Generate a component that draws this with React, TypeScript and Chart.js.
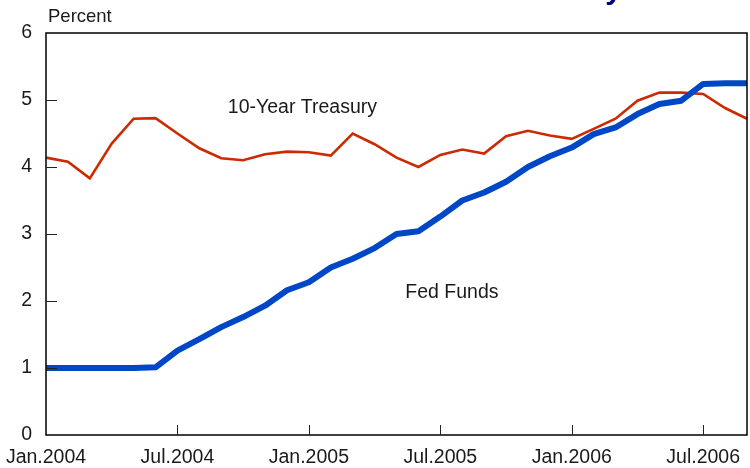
import React, { useEffect, useRef } from "react";
import { Chart, registerables } from "chart.js";

Chart.register(...registerables);

const months = [
  "Jan.2004","Feb.2004","Mar.2004","Apr.2004","May.2004","Jun.2004",
  "Jul.2004","Aug.2004","Sep.2004","Oct.2004","Nov.2004","Dec.2004",
  "Jan.2005","Feb.2005","Mar.2005","Apr.2005","May.2005","Jun.2005",
  "Jul.2005","Aug.2005","Sep.2005","Oct.2005","Nov.2005","Dec.2005",
  "Jan.2006","Feb.2006","Mar.2006","Apr.2006","May.2006","Jun.2006",
  "Jul.2006","Aug.2006","Sep.2006",
];

const tickLabels = ["Jan.2004", "Jul.2004", "Jan.2005", "Jul.2005", "Jan.2006", "Jul.2006"];

const treasury10y = [
  4.14, 4.08, 3.83, 4.35, 4.72, 4.73, 4.50, 4.28, 4.13, 4.10, 4.19, 4.23,
  4.22, 4.17, 4.50, 4.34, 4.14, 4.00, 4.18, 4.26, 4.20, 4.46, 4.54, 4.47,
  4.42, 4.57, 4.72, 4.99, 5.11, 5.11, 5.09, 4.88, 4.72,
];

const fedFunds = [
  1.00, 1.00, 1.00, 1.00, 1.00, 1.01, 1.26, 1.43, 1.61, 1.76, 1.93, 2.16,
  2.28, 2.50, 2.63, 2.79, 3.00, 3.04, 3.26, 3.50, 3.62, 3.78, 4.00, 4.16,
  4.29, 4.49, 4.59, 4.79, 4.94, 4.99, 5.24, 5.25, 5.25,
];

const yAxisTitle = "Percent";
const treasuryLabel = "10-Year Treasury";
const fedLabel = "Fed Funds";
const titleFragment = "Policy";

const FONT = "'Liberation Sans', Arial, Helvetica, sans-serif";
const TEXT = "#1a1a1a";
const RED = "#cc2a00";
const BLUE = "#0047c8";

const decorPlugin = {
  id: "decor",
  afterDraw(chart: any) {
    const { ctx, chartArea } = chart;
    const x = chart.scales.x;
    const y = chart.scales.y;
    ctx.save();
    ctx.strokeStyle = "#000";
    ctx.lineWidth = 1.5;
    ctx.strokeRect(chartArea.left, chartArea.top, chartArea.right - chartArea.left, chartArea.bottom - chartArea.top);
    ctx.lineWidth = 1;
    ctx.strokeStyle = "#222";
    for (let v = 1; v <= 5; v++) {
      const py = Math.round(y.getPixelForValue(v)) + 0.5;
      ctx.beginPath();
      ctx.moveTo(chartArea.left, py);
      ctx.lineTo(chartArea.left + 11, py);
      ctx.stroke();
    }
    months.forEach((m, i) => {
      if (i > 0 && tickLabels.includes(m)) {
        const px = Math.round(x.getPixelForValue(i)) + 0.5;
        ctx.beginPath();
        ctx.moveTo(px, chartArea.bottom);
        ctx.lineTo(px, chartArea.bottom - 10);
        ctx.stroke();
      }
    });
    ctx.fillStyle = TEXT;
    ctx.font = `18.5px ${FONT}`;
    ctx.textBaseline = "alphabetic";
    ctx.textAlign = "left";
    ctx.fillText(yAxisTitle, chartArea.left + 2, 22);
    ctx.font = `19.5px ${FONT}`;
    ctx.fillText(treasuryLabel, x.getPixelForValue(8.3), y.getPixelForValue(4.81));
    ctx.fillText(fedLabel, x.getPixelForValue(16.4), y.getPixelForValue(2.05));
    ctx.fillStyle = "#000080";
    ctx.font = `bold 30px ${FONT}`;
    ctx.textAlign = "right";
    ctx.fillText(titleFragment, 622, -1);
    ctx.restore();
  },
};

export default function App() {
  const ref = useRef<HTMLCanvasElement | null>(null);
  useEffect(() => {
    document.body.style.margin = "0";
    const canvas = ref.current!;
    const chart = new Chart(canvas, {
      type: "line",
      data: {
        labels: months,
        datasets: [
          {
            label: treasuryLabel,
            data: treasury10y,
            borderColor: RED,
            borderWidth: 2.6,
            pointRadius: 0,
            tension: 0,
            order: 2,
          },
          {
            label: fedLabel,
            data: fedFunds,
            borderColor: BLUE,
            borderWidth: 6,
            pointRadius: 0,
            tension: 0,
            order: 1,
            borderJoinStyle: "round",
          },
        ],
      },
      options: {
        animation: false,
        responsive: false,
        devicePixelRatio: 1,
        layout: { padding: { top: 33, right: 3, left: 0, bottom: 0 } },
        plugins: { legend: { display: false }, tooltip: { enabled: false }, title: { display: false } },
        scales: {
          x: {
            type: "category",
            offset: false,
            grid: { display: false, drawTicks: false },
            border: { display: false },
            ticks: {
              autoSkip: false,
              maxRotation: 0,
              minRotation: 0,
              padding: 11,
              color: TEXT,
              font: { size: 19.5, family: FONT },
              callback: (_v: any, i: number) => (tickLabels.includes(months[i]) ? months[i] : null),
            },
            afterFit: (s: any) => {
              s.height = 33;
              s.paddingLeft = 0;
              s.paddingRight = 0;
            },
          },
          y: {
            min: 0,
            max: 6,
            grid: { display: false, drawTicks: false },
            border: { display: false },
            ticks: {
              stepSize: 1,
              padding: 14,
              color: TEXT,
              font: { size: 19.5, family: FONT },
            },
            afterFit: (s: any) => {
              s.width = 46;
              s.paddingTop = 0;
              s.paddingBottom = 0;
            },
          },
        },
      },
      plugins: [decorPlugin],
    });
    return () => chart.destroy();
  }, []);
  return <canvas ref={ref} width={750} height={468} style={{ display: "block" }} />;
}
